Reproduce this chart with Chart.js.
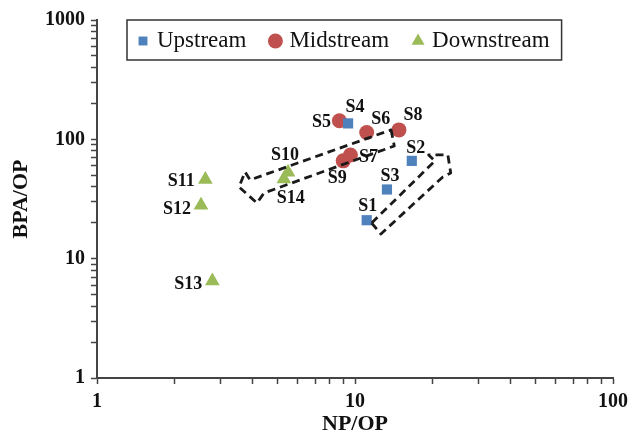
<!DOCTYPE html>
<html>
<head>
<meta charset="utf-8">
<script src="https://cdn.jsdelivr.net/npm/chart.js@4.4.0/dist/chart.umd.min.js"></script>
<style>
html, body { margin: 0; padding: 0; background: #fff; }
#wrap { width: 634px; height: 439px; }
</style>
</head>
<body>
<div id="wrap"><canvas id="chart" width="634" height="439"></canvas></div>
<script>
// site names and ratios
const upstreamSites = ['S1', 'S2', 'S3', 'S4'];
const upstreamNP = [11.1, 16.6, 13.3, 9.4];
const upstreamBPA = [21, 66, 38, 136];

const midstreamSites = ['S5', 'S6', 'S7', 'S8', 'S9'];
const midstreamNP = [8.7, 11.1, 9.6, 14.8, 9.0];
const midstreamBPA = [143, 114, 74, 120, 66];

const downstreamSites = ['S10', 'S11', 'S12', 'S13', 'S14'];
const downstreamNP = [5.5, 2.63, 2.53, 2.8, 5.3];
const downstreamBPA = [53, 46, 28, 6.5, 46.6];

const xTickValues = [1, 2, 3, 4, 5, 6, 7, 8, 9, 10, 20, 30, 40, 50, 60, 70, 80, 90, 100];
const yTickValues = [1, 2, 3, 4, 5, 6, 7, 8, 9, 10, 20, 30, 40, 50, 60, 70, 80, 90,
	100, 200, 300, 400, 500, 600, 700, 800, 900, 1000];
const labelledTicks = [1, 10, 100, 1000];

// dashed block arrows, outline corners in NP/OP and BPA/OP units
const arrowMidNP = [13.8, 14.2, 4.44, 4.17, 3.55, 3.75, 3.92];
const arrowMidBPA = [120, 88, 35.5, 29.3, 39.9, 53.3, 45.7];
const arrowUpNP = [11.6, 12.6, 21.9, 23.5, 22.9, 19.3, 20.4];
const arrowUpBPA = [19.9, 16.1, 48.4, 52.3, 74, 74, 65.9];

// where each site label sits relative to its marker (px)
const labelOffsets = {
	S1: [1, -14], S2: [4, -13], S3: [3, -13], S4: [7, -16],
	S5: [-18, 2], S6: [14, -13], S7: [18, 2], S8: [14, -15], S9: [-6, 17],
	S10: [-3, -17], S11: [-24, 2], S12: [-24, 4], S13: [-24, 3], S14: [7, 19]
};

const SERIF = '"Liberation Serif", "Times New Roman", serif';

function toPoints(xs, ys) {
	return xs.map((x, i) => ({ x: x, y: ys[i] }));
}

function drawMarker(ctx, style, x, y, r, color) {
	ctx.save();
	ctx.fillStyle = color;
	ctx.beginPath();
	if (style === 'rect') {
		const s = r * Math.SQRT1_2;
		ctx.rect(x - s, y - s, 2 * s, 2 * s);
	} else if (style === 'circle') {
		ctx.arc(x, y, r, 0, Math.PI * 2);
	} else {
		ctx.moveTo(x, y - r);
		ctx.lineTo(x + r * Math.sin(Math.PI / 3), y + r / 2);
		ctx.lineTo(x - r * Math.sin(Math.PI / 3), y + r / 2);
		ctx.closePath();
	}
	ctx.fill();
	ctx.restore();
}

const siteLabels = {
	id: 'siteLabels',
	afterDatasetsDraw(chart) {
		const ctx = chart.ctx;
		ctx.save();
		ctx.font = 'bold 18px ' + SERIF;
		ctx.fillStyle = '#111';
		ctx.textAlign = 'center';
		ctx.textBaseline = 'middle';
		chart.data.datasets.forEach((ds, di) => {
			const meta = chart.getDatasetMeta(di);
			ds.sites.forEach((name, i) => {
				const el = meta.data[i];
				const off = labelOffsets[name] || [0, -14];
				ctx.fillText(name, el.x + off[0], el.y + off[1]);
			});
		});
		ctx.restore();
	}
};

const dashedArrows = {
	id: 'dashedArrows',
	afterDatasetsDraw(chart) {
		const ctx = chart.ctx;
		const xs = chart.scales.x;
		const ys = chart.scales.y;
		const shapes = [[arrowMidNP, arrowMidBPA], [arrowUpNP, arrowUpBPA]];
		ctx.save();
		ctx.strokeStyle = '#1a1a1a';
		ctx.lineWidth = 2.8;
		ctx.setLineDash([8, 5]);
		ctx.lineJoin = 'round';
		shapes.forEach(([px, py]) => {
			ctx.beginPath();
			px.forEach((v, i) => {
				const X = xs.getPixelForValue(v);
				const Y = ys.getPixelForValue(py[i]);
				if (i === 0) ctx.moveTo(X, Y); else ctx.lineTo(X, Y);
			});
			ctx.closePath();
			ctx.stroke();
		});
		ctx.restore();
	}
};

const boxedLegend = {
	id: 'boxedLegend',
	afterDraw(chart) {
		const ctx = chart.ctx;
		const area = chart.chartArea;
		const left = area.left + 30;
		const top = area.top;
		const height = 40;
		ctx.save();
		ctx.font = '23px ' + SERIF;
		ctx.textBaseline = 'middle';
		let x = left + 9;
		const items = [];
		chart.data.datasets.forEach((ds) => {
			const w = ctx.measureText(ds.label).width;
			items.push({ ds: ds, x: x, w: w });
			x += 21 + w + 22;
		});
		const width = x - 22 + 12 - left;
		ctx.fillStyle = '#fff';
		ctx.fillRect(left, top, width, height);
		ctx.strokeStyle = '#333';
		ctx.lineWidth = 1.5;
		ctx.strokeRect(left, top, width, height);
		const cy = top + height / 2;
		items.forEach((it) => {
			drawMarker(ctx, it.ds.pointStyle, it.x + 7, cy + 1, it.ds.legendRadius, it.ds.backgroundColor);
			ctx.fillStyle = '#111';
			ctx.fillText(it.ds.label, it.x + 21, cy + 1);
		});
		ctx.restore();
	}
};

function axisOptions(tickValues, titleText, titlePadding) {
	return {
		type: 'logarithmic',
		min: tickValues[0],
		max: tickValues[tickValues.length - 1],
		afterBuildTicks: (scale) => {
			scale.ticks = tickValues.map((v) => ({ value: v, major: labelledTicks.includes(v) }));
		},
		ticks: {
			autoSkip: false,
			maxRotation: 0,
			padding: 6,
			color: '#111',
			font: { family: SERIF, size: 20, weight: 'bold' },
			callback: (v) => (labelledTicks.includes(v) ? String(v) : '')
		},
		grid: {
			display: true,
			drawOnChartArea: false,
			drawTicks: true,
			tickLength: 6,
			tickColor: '#444',
			tickWidth: 1.5
		},
		border: { display: true, color: '#444', width: 2 },
		title: {
			display: true,
			text: titleText,
			color: '#111',
			font: { family: SERIF, size: 22, weight: 'bold' },
			padding: titlePadding
		}
	};
}

const xAxis = axisOptions(xTickValues, 'NP/OP', { top: 0, bottom: 1 });
xAxis.afterFit = (scale) => { scale.height = 61; };
const yAxis = axisOptions(yTickValues, 'BPA/OP', { top: 8, bottom: 0 });
yAxis.afterFit = (scale) => { scale.width = 97; };

new Chart(document.getElementById('chart'), {
	type: 'scatter',
	data: {
		datasets: [
			{
				label: 'Upstream',
				sites: upstreamSites,
				data: toPoints(upstreamNP, upstreamBPA),
				pointStyle: 'rect',
				pointRadius: 7.2,
				legendRadius: 6.3,
				backgroundColor: '#4F81BD',
				borderWidth: 0
			},
			{
				label: 'Midstream',
				sites: midstreamSites,
				data: toPoints(midstreamNP, midstreamBPA),
				pointStyle: 'circle',
				pointRadius: 7.5,
				legendRadius: 7.5,
				backgroundColor: '#C0504D',
				borderWidth: 0
			},
			{
				label: 'Downstream',
				sites: downstreamSites,
				data: toPoints(downstreamNP, downstreamBPA),
				pointStyle: 'triangle',
				pointRadius: 8.5,
				legendRadius: 7.5,
				backgroundColor: '#9BBB59',
				borderWidth: 0
			}
		]
	},
	options: {
		responsive: false,
		animation: false,
		layout: { padding: { top: 20, right: 17, left: 0, bottom: 0 } },
		plugins: {
			legend: { display: false },
			tooltip: { enabled: false }
		},
		scales: { x: xAxis, y: yAxis }
	},
	plugins: [dashedArrows, siteLabels, boxedLegend]
});
</script>
</body>
</html>
